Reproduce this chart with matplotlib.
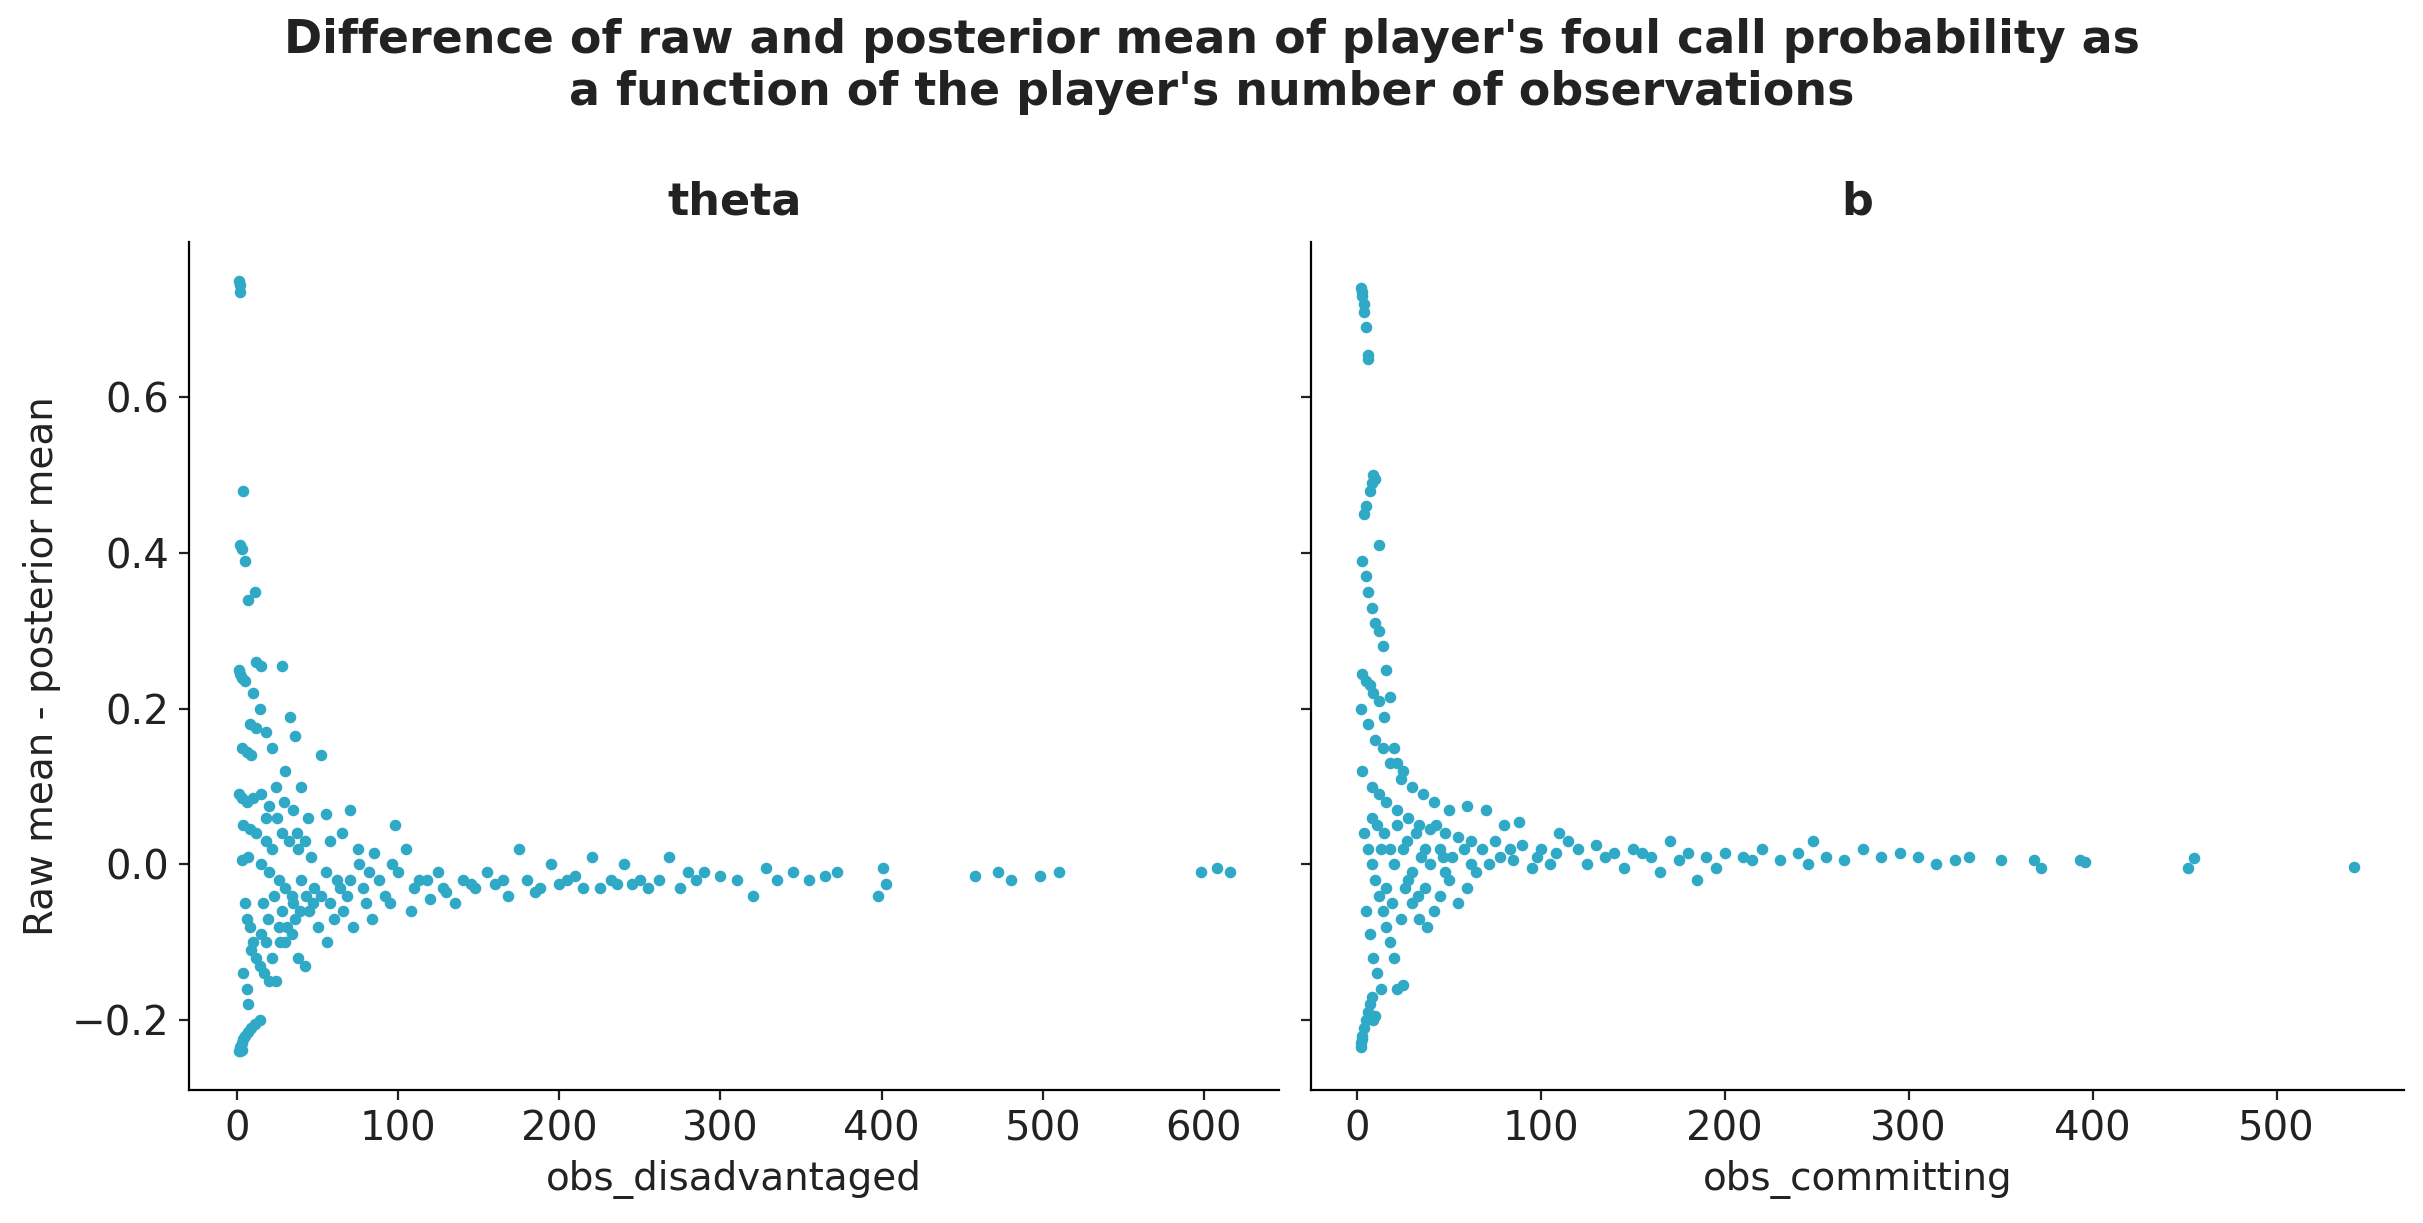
import matplotlib.pyplot as plt
import numpy as np

# hand-read points: (obs, raw mean - posterior mean)
theta_pts = [
    (1, 0.75), (2, 0.745), (2, 0.735), (4, 0.48), (2, 0.41), (3, 0.405), (5, 0.39), (7, 0.34), (11, 0.35),
    (1, 0.25), (2, 0.245), (3, 0.24), (5, 0.235), (12, 0.26), (15, 0.255), (28, 0.255), (10, 0.22), (14, 0.2),
    (8, 0.18), (12, 0.175), (3, 0.15), (6, 0.145), (9, 0.14), (18, 0.17), (22, 0.15), (33, 0.19), (36, 0.165),
    (30, 0.12), (40, 0.1), (52, 0.14), (1, 0.09), (3, 0.085), (6, 0.08), (10, 0.085), (15, 0.09), (20, 0.075),
    (25, 0.06), (35, 0.07), (44, 0.06), (55, 0.065), (70, 0.07), (4, 0.05), (8, 0.045), (12, 0.04), (18, 0.03),
    (22, 0.02), (28, 0.04), (32, 0.03), (38, 0.02), (46, 0.01), (58, 0.03), (65, 0.04), (75, 0.02), (85, 0.015),
    (98, 0.05), (105, 0.02), (3, 0.005), (7, 0.01), (15, 0.0), (20, -0.01), (26, -0.02), (30, -0.03), (34, -0.04),
    (40, -0.02), (48, -0.03), (55, -0.01), (62, -0.02), (68, -0.04), (78, -0.03), (88, -0.02), (92, -0.04),
    (100, -0.01), (110, -0.03), (118, -0.02), (125, -0.01), (130, -0.035), (140, -0.02), (148, -0.03),
    (155, -0.01), (160, -0.025), (168, -0.04), (175, 0.02), (180, -0.02), (188, -0.03), (195, 0.0),
    (200, -0.025), (210, -0.015), (220, 0.01), (225, -0.03), (232, -0.02), (240, 0.0), (245, -0.025),
    (255, -0.03), (262, -0.02), (268, 0.01), (275, -0.03), (285, -0.02), (290, -0.01), (300, -0.015),
    (310, -0.02), (320, -0.04), (328, -0.005), (335, -0.02), (345, -0.01), (355, -0.02), (365, -0.015),
    (372, -0.01), (398, -0.04), (401, -0.005), (403, -0.025), (458, -0.015), (472, -0.01), (480, -0.02),
    (498, -0.015), (510, -0.01), (598, -0.01), (608, -0.005), (616, -0.01),
    (5, -0.05), (8, -0.08), (10, -0.1), (12, -0.12), (14, -0.13), (17, -0.14), (20, -0.15), (24, -0.15),
    (6, -0.07), (9, -0.11), (15, -0.09), (18, -0.1), (22, -0.12), (26, -0.08), (30, -0.1), (34, -0.09),
    (38, -0.12), (42, -0.13), (28, -0.06), (36, -0.07), (45, -0.06), (50, -0.08), (56, -0.1), (60, -0.07),
    (66, -0.06), (72, -0.08), (80, -0.05), (84, -0.07), (95, -0.05), (108, -0.06), (120, -0.045),
    (135, -0.05), (4, -0.14), (6, -0.16), (7, -0.18),
    (1, -0.24), (2, -0.235), (3, -0.23), (4, -0.225), (5, -0.22), (7, -0.215), (9, -0.21), (11, -0.205),
    (14, -0.2), (2, -0.24), (3, -0.238),
    (16, -0.05), (19, -0.07), (23, -0.04), (27, -0.1), (31, -0.08), (35, -0.05), (39, -0.06), (43, -0.04),
    (47, -0.05), (52, -0.04), (58, -0.05), (64, -0.03), (70, -0.02), (76, 0.0), (82, -0.01), (96, 0.0),
    (113, -0.02), (128, -0.03), (145, -0.025), (165, -0.02), (185, -0.035), (205, -0.02), (215, -0.03),
    (236, -0.025), (250, -0.02), (280, -0.01), (18, 0.06), (24, 0.1), (29, 0.08), (37, 0.04), (42, 0.03),
]

b_pts = [
    (2, 0.74), (3, 0.735), (3, 0.73), (4, 0.72), (4, 0.71), (5, 0.69), (6, 0.655), (6, 0.65), (8, 0.49),
    (9, 0.5), (10, 0.495), (7, 0.48), (5, 0.46), (4, 0.45), (12, 0.41), (3, 0.39), (5, 0.37), (6, 0.35),
    (8, 0.33), (10, 0.31), (12, 0.3), (14, 0.28), (16, 0.25), (18, 0.215), (3, 0.245), (5, 0.235), (7, 0.23),
    (9, 0.22), (12, 0.21), (15, 0.19), (20, 0.15), (22, 0.13), (25, 0.12), (2, 0.2), (6, 0.18), (10, 0.16),
    (14, 0.15), (18, 0.13), (24, 0.11), (30, 0.1), (36, 0.09), (42, 0.08), (50, 0.07), (60, 0.075), (70, 0.07),
    (80, 0.05), (88, 0.055), (3, 0.12), (8, 0.1), (12, 0.09), (16, 0.08), (22, 0.07), (28, 0.06), (34, 0.05),
    (40, 0.045), (48, 0.04), (55, 0.035), (62, 0.03), (75, 0.03), (90, 0.025), (100, 0.02), (110, 0.04),
    (115, 0.03), (120, 0.02), (130, 0.025), (140, 0.015), (150, 0.02), (160, 0.01), (170, 0.03), (180, 0.015),
    (190, 0.01), (200, 0.015), (210, 0.01), (220, 0.02), (230, 0.005), (240, 0.015), (248, 0.03), (255, 0.01),
    (265, 0.005), (275, 0.02), (285, 0.01), (295, 0.015), (305, 0.01), (315, 0.0), (325, 0.005), (333, 0.01),
    (350, 0.005), (368, 0.005), (372, -0.005), (393, 0.005), (396, 0.003), (452, -0.005), (455, 0.008),
    (542, -0.003),
    (4, 0.04), (6, 0.02), (8, 0.0), (10, -0.02), (12, -0.04), (14, -0.06), (16, -0.08), (18, -0.1),
    (20, -0.12), (22, -0.16), (25, -0.155), (5, -0.06), (7, -0.09), (9, -0.12), (11, -0.14), (13, -0.16),
    (26, -0.03), (30, -0.05), (34, -0.07), (38, -0.08), (42, -0.06), (45, -0.04), (50, -0.02), (55, -0.05),
    (60, -0.03), (20, 0.0), (25, 0.02), (30, -0.01), (35, 0.01), (40, 0.0), (45, 0.02), (52, 0.01),
    (65, -0.01), (72, 0.0), (85, 0.005), (95, -0.005), (105, 0.0), (125, 0.0), (145, -0.005), (165, -0.01),
    (185, -0.02), (195, -0.005),
    (2, -0.235), (2, -0.23), (3, -0.225), (3, -0.22), (4, -0.21), (5, -0.2), (6, -0.19), (7, -0.18),
    (8, -0.17), (9, -0.2), (10, -0.195),
    (15, 0.04), (18, 0.02), (22, 0.05), (27, 0.03), (32, 0.04), (37, 0.02), (43, 0.05), (47, 0.01),
    (58, 0.02), (68, 0.02), (78, 0.01), (83, 0.02), (98, 0.01), (108, 0.015), (135, 0.01), (155, 0.015),
    (175, 0.005), (215, 0.005), (245, 0.0), (16, -0.03), (19, -0.05), (24, -0.07), (28, -0.02), (33, -0.04),
    (37, -0.03), (48, -0.01), (62, 0.0), (8, 0.06), (11, 0.05), (13, 0.02),
]

panels = [("theta", "obs_disadvantaged", theta_pts), ("b", "obs_committing", b_pts)]
color = '#30a9c7'

fig = plt.figure(figsize=(12.115, 6.115), dpi=200)
ax1 = fig.add_axes([0.078, 0.109, 0.450, 0.693])
ax2 = fig.add_axes([0.541, 0.109, 0.451, 0.693], sharey=ax1)

for ax, (title, xlabel, pts) in zip([ax1, ax2], panels):
    arr = np.array(pts)
    ax.scatter(arr[:, 0], arr[:, 1], s=10, color=color, zorder=3)
    ax.set_title(title, fontsize=16, fontweight='bold', color='#222222', pad=10)
    ax.set_xlabel(xlabel, fontsize=14, color='#222222')
    ax.spines['top'].set_visible(False)
    ax.spines['right'].set_visible(False)
    ax.tick_params(labelsize=14.5, colors='#222222')

ax1.set_ylabel("Raw mean - posterior mean", fontsize=14, color='#222222')
ax1.set_yticks([-0.2, 0.0, 0.2, 0.4, 0.6])
plt.setp(ax2.get_yticklabels(), visible=False)

fig.suptitle("Difference of raw and posterior mean of player's foul call probability as\n"
             "a function of the player's number of observations",
             fontsize=16.5, fontweight='bold', color='#222222', y=0.985)

plt.savefig("out.png", dpi=200)
